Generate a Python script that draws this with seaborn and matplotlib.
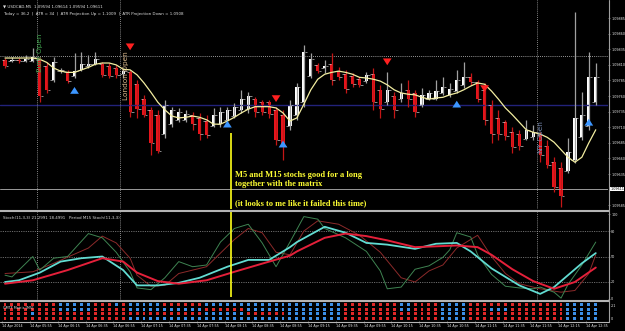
import numpy as np
import pandas as pd
import matplotlib
matplotlib.use("Agg")
import matplotlib.pyplot as plt
import seaborn as sns
from matplotlib.lines import Line2D

# ---------------- data ----------------
highs = [1.09821,1.09822,1.09821,1.09826,1.09837,1.09822,1.09814,1.09822,1.09805,1.09802,
         1.09829,1.09830,1.09826,1.09830,1.09814,1.09813,1.09810,1.09805,1.09802,1.09786,
         1.09762,1.09742,1.09738,1.09754,1.09742,1.09741,1.09738,1.09734,1.09733,1.09730,
         1.09741,1.09742,1.09742,1.09749,1.09770,1.09766,1.09758,1.09754,1.09754,1.09742,
         1.09738,1.09754,1.09781,1.09842,1.09829,1.09813,1.09818,1.09829,1.09806,1.09802,
         1.09797,1.09790,1.09798,1.09805,1.09778,1.09798,1.09766,1.09781,1.09786,1.09770,
         1.09773,1.09770,1.09786,1.09790,1.09781,1.09802,1.09814,1.09797,1.09786,1.09781,
         1.09754,1.09738,1.09722,1.09710,1.09706,1.09722,1.09714,1.09702,1.09690,1.09662,
         1.09654,1.09693,1.09895,1.09766,1.09830,1.09813]
lows = [1.09805,1.09814,1.09813,1.09814,1.09814,1.09750,1.09765,1.09782,1.09797,1.09781,
        1.09789,1.09800,1.09805,1.09810,1.09790,1.09789,1.09789,1.09789,1.09726,1.09725,
        1.09726,1.09665,1.09669,1.09693,1.09710,1.09718,1.09718,1.09706,1.09690,1.09693,
        1.09710,1.09710,1.09718,1.09725,1.09733,1.09733,1.09726,1.09730,1.09725,1.09681,
        1.09657,1.09706,1.09722,1.09742,1.09789,1.09797,1.09797,1.09778,1.09786,1.09765,
        1.09774,1.09774,1.09781,1.09738,1.09725,1.09746,1.09725,1.09750,1.09742,1.09726,
        1.09742,1.09754,1.09754,1.09762,1.09758,1.09765,1.09773,1.09778,1.09750,1.09714,
        1.09685,1.09690,1.09690,1.09669,1.09673,1.09690,1.09690,1.09654,1.09645,1.09606,
        1.09582,1.09637,1.09653,1.09690,1.09706,1.09746]
opens = [1.09818,1.09816,1.09818,1.09816,1.09816,1.09818,1.09808,1.09785,1.09800,1.09798,
         1.09792,1.09802,1.09808,1.09812,1.09812,1.09808,1.09805,1.09795,1.09798,1.09780,
         1.09755,1.09738,1.09730,1.09700,1.09715,1.09722,1.09722,1.09730,1.09725,1.09720,
         1.09712,1.09715,1.09722,1.09728,1.09738,1.09740,1.09755,1.09750,1.09750,1.09738,
         1.09730,1.09712,1.09730,1.09750,1.09792,1.09810,1.09805,1.09812,1.09800,1.09795,
         1.09792,1.09788,1.09784,1.09795,1.09770,1.09750,1.09760,1.09755,1.09770,1.09765,
         1.09745,1.09756,1.09756,1.09765,1.09762,1.09768,1.09778,1.09790,1.09782,1.09770,
         1.09745,1.09725,1.09718,1.09702,1.09700,1.09692,1.09695,1.09698,1.09680,1.09655,
         1.09645,1.09640,1.09658,1.09695,1.09712,1.09750]
closes = [1.09808,1.09818,1.09816,1.09820,1.09822,1.09760,1.09770,1.09815,1.09802,1.09784,
          1.09800,1.09812,1.09812,1.09820,1.09794,1.09792,1.09793,1.09800,1.09735,1.09740,
          1.09730,1.09685,1.09672,1.09745,1.09738,1.09735,1.09732,1.09715,1.09700,1.09698,
          1.09730,1.09735,1.09738,1.09742,1.09755,1.09760,1.09735,1.09735,1.09732,1.09690,
          1.09680,1.09745,1.09775,1.09830,1.09820,1.09800,1.09808,1.09785,1.09790,1.09772,
          1.09780,1.09778,1.09794,1.09750,1.09740,1.09770,1.09738,1.09765,1.09755,1.09735,
          1.09762,1.09765,1.09768,1.09775,1.09772,1.09785,1.09790,1.09782,1.09755,1.09722,
          1.09700,1.09700,1.09696,1.09678,1.09680,1.09705,1.09702,1.09665,1.09650,1.09615,
          1.09600,1.09670,1.09725,1.09730,1.09790,1.09790]
ma_vals = [1.09821,1.09821,1.09821,1.09821,1.09821,1.09819,1.09814,1.09805,1.09800,1.09798,
           1.09798,1.09802,1.09806,1.09811,1.09813,1.09813,1.09810,1.09803,1.09802,1.09794,
           1.09781,1.09766,1.09750,1.09738,1.09728,1.09725,1.09726,1.09728,1.09726,1.09722,
           1.09715,1.09715,1.09720,1.09726,1.09733,1.09739,1.09743,1.09743,1.09743,1.09741,
           1.09733,1.09720,1.09725,1.09747,1.09770,1.09787,1.09795,1.09798,1.09800,1.09798,
           1.09795,1.09790,1.09789,1.09787,1.09784,1.09778,1.09770,1.09765,1.09763,1.09762,
           1.09758,1.09755,1.09757,1.09758,1.09762,1.09765,1.09770,1.09776,1.09781,1.09779,
           1.09768,1.09755,1.09741,1.09730,1.09718,1.09706,1.09702,1.09699,1.09694,1.09686,
           1.09674,1.09662,1.09654,1.09662,1.09685,1.09706]

up_arrow_bars = [10, 32, 40, 65, 84]
up_arrow_prices = [1.09771, 1.09717, 1.09685, 1.09749, 1.09720]
dn_arrow_bars = [18, 39, 55, 69]
dn_arrow_prices = [1.09837, 1.09754, 1.09813, 1.09770]

price_ticks = [1.09885,1.09860,1.09835,1.09810,1.09785,1.09760,1.09735,1.09710,1.09685,1.09660,1.09635,1.09585]
current_price = 1.09611
daily_level = 1.09824
blue_level = 1.09746

session_bars = [4.6, 16.5, 76.5]
session_names = ["Euro Open", "London Open", "NY Open"]
session_label_bars = [5.1, 17.4, 77.1]
session_label_prices = [1.09829, 1.09792, 1.09694]
session_colors = ["#3fa34d", "#d9b88c", "#7d90b8"]

# stochastics (bar index, value)
m15_main_i = [0,2,5,8,11,14,17,19,22,25,28,32,35,38,41,42,46,49,52,55,59,62,65,67,70,74,77,79,83,85]
m15_main_v = [20,22,31,44,48,50,34,16,16,19,25,38,46,46,61,67,85,78,66,64,59,65,66,56,36,16,6,14,42,54]
m15_sig_i = [0,4,9,14,17,19,22,25,29,33,38,41,42,46,49,52,55,59,62,65,68,70,73,76,79,82,85]
m15_sig_v = [18,22,34,48,44,31,21,18,22,32,44,51,56,72,77,74,69,61,62,63,61,52,35,21,12,20,37]
m5_main_i = [0,1,4,5,7,9,12,14,16,18,19,21,23,25,27,29,31,33,35,37,39,41,43,45,46,49,52,54,55,57,59,61,63,64,65,67,68,70,72,74,76,77,79,80,81,83,85]
m5_main_v = [28,26,50,34,48,50,77,72,55,32,13,11,25,44,38,40,67,83,88,66,38,67,97,94,83,72,56,33,12,14,35,39,49,58,78,73,52,29,15,13,12,14,8,1,17,40,67]
m5_sig_i = [0,4,7,12,14,16,18,19,21,23,25,29,33,35,37,39,41,43,45,48,51,54,57,59,61,63,65,68,70,72,74,77,80,82,84,85]
m5_sig_v = [30,32,42,60,74,66,48,28,15,16,30,38,70,83,78,55,52,80,92,88,75,55,25,20,33,40,60,75,50,30,18,12,8,10,30,52]

# matrix rows (run-length segments: state, count)
matrix_rows = [
    [("r",8),("b",5),("r",3),("b",1),("r",1),("b",5),("r",6),("b",20),("r",8),("b",2),("r",4),("b",4),("r",14),("b",5)],
    [("r",8),("b",5),("r",5),("b",11),("r",6),("b",14),("r",8),("b",2),("r",4),("b",4),("r",3),("b",3),("r",8),("b",5)],
    [("r",4),("b",1),("r",24),("b",6),("r",6),("b",8),("r",14),("b",4),("r",14),("b",5)],
    [("r",18),("b",31),("r",14),("b",4),("r",14),("b",5)],
]

time_labels = ["14 Apr 2014"] + ["14 Apr %02d:%02d" % divmod(355 + 20 * k, 60) for k in range(21)]

header1 = "\u25bc USDCAD,M5  1.09594 1.09614 1.09594 1.09611"
header2 = "Today = 36.2  |  ATR = 34  |  ATR Projection Up = 1.1009  |  ATR Projection Down = 1.0908"
stoch_title = "Stoch(11,3,3) 21.2991 18.4991   Period M15 Stoch(11,3,3)"
matrix_title = "GMTF Matrix [M5]"
note_lines = ["M5 and M15 stochs good for a long", "together with the matrix", "(it looks to me like it failed this time)"]
note_prices = [1.09633, 1.09619, 1.09589]

# ---------------- figure ----------------
W, H = 625, 331
sns.set_theme(style="dark", rc={"axes.facecolor": "black", "figure.facecolor": "black"})
plt.rcParams["font.family"] = ["DejaVu Sans"]

fig = plt.figure(figsize=(W / 100, H / 100), dpi=100, facecolor="black")
XL = (-0.72, 86.76)
SMALL = 2.9     # header / panel titles
AXF = 2.45      # axis tick labels


def px_axes(x0, y0, x1, y1):
    a = fig.add_axes([x0 / W, 1 - y1 / H, (x1 - x0) / W, (y1 - y0) / H])
    a.set_facecolor("black")
    for s in a.spines.values():
        s.set_visible(False)
    a.grid(False)
    return a


df = pd.DataFrame({"bar": np.arange(len(opens)), "open": opens, "high": highs,
                   "low": lows, "close": closes, "ma": ma_vals})
up = df["close"] >= df["open"]

# ---- main price panel ----
ax = px_axes(0, 0, 608, 209)
ax.axhline(daily_level, color="#c8c8c8", lw=0.6, ls=(0, (1, 1.5)))
ax.axhline(blue_level, color="#22227a", lw=1.0)
ax.axhline(current_price, color="#9a9a9a", lw=0.7)
for b in session_bars:
    ax.axvline(b, color="#b0b0b0", lw=0.6, ls=(0, (1, 1.5)))

ax.vlines(df["bar"][up], df["low"][up], df["high"][up], color="#a0a0a0", lw=0.9)
ax.vlines(df["bar"][~up], df["low"][~up], df["high"][~up], color="#c41616", lw=0.9)
ax.bar(df["bar"][up], (df["close"] - df["open"])[up], bottom=df["open"][up],
       width=0.46, color="white", lw=0)
ax.bar(df["bar"][~up], (df["open"] - df["close"])[~up], bottom=df["close"][~up],
       width=0.46, color="#e8141c", lw=0)
ax.hlines(df["open"], df["bar"] - 0.5, df["bar"] - 0.12, color="#d8d8d8", lw=0.45)
ax.hlines(df["close"], df["bar"] + 0.12, df["bar"] + 0.5, color="#d8d8d8", lw=0.45)

sns.lineplot(data=df, x="bar", y="ma", color="#f2eda0", lw=0.9, ax=ax)

for b, p in zip(up_arrow_bars, up_arrow_prices):
    ax.annotate("", xy=(b, p + 0.00008), xytext=(b, p - 0.00008),
                arrowprops=dict(arrowstyle="simple,head_width=0.9,head_length=0.7,tail_width=0.35",
                                color="#3c96ff", lw=0, mutation_scale=7))
for b, p in zip(dn_arrow_bars, dn_arrow_prices):
    ax.annotate("", xy=(b, p - 0.00008), xytext=(b, p + 0.00008),
                arrowprops=dict(arrowstyle="simple,head_width=0.9,head_length=0.7,tail_width=0.35",
                                color="#ff2020", lw=0, mutation_scale=7))

for name, b, p, c in zip(session_names, session_label_bars, session_label_prices, session_colors):
    ax.text(b, p, name, rotation=90, color=c, fontsize=5.3, ha="center", va="center")

ax.vlines(32.5, 1.09579, 1.09701, color="#ffff1a", lw=1.2, clip_on=False)
for line, p in zip(note_lines, note_prices):
    ax.text(33.1, p, line, color="#ffff33", fontsize=6.0, fontweight="bold",
            family=["Liberation Serif", "DejaVu Serif"], ha="left", va="center")

ax.set_xlim(*XL)
ax.set_ylim(1.09579, 1.09914)
ax.set_xlabel("")
ax.set_ylabel("")
ax.set_xticks([])
ax.yaxis.tick_right()
ax.set_yticks(price_ticks)
ax.set_yticklabels(["%.5f" % v for v in price_ticks])
ax.tick_params(axis="y", which="both", right=True, length=1.5, width=0.5, color="#909090",
               labelcolor="#e8e8e8", labelsize=AXF, pad=0.8)
ax.text(1.0035, current_price, "%.5f" % current_price, transform=ax.get_yaxis_transform(),
        fontsize=AXF, color="black", ha="left", va="center",
        bbox=dict(boxstyle="square,pad=0.12", fc="white", ec="none"))

# ---- stochastic panel ----
ax2 = px_axes(0, 212, 608, 300)
for g in (80, 50, 20):
    ax2.axhline(g, color="#8a8a8a", lw=0.55, ls=(0, (1.5, 1.5)))
for b in session_bars:
    ax2.axvline(b, color="#b0b0b0", lw=0.6, ls=(0, (1, 1.5)))
sns.lineplot(x=m5_sig_i, y=m5_sig_v, color="#8c2a2a", lw=0.7, ax=ax2)
sns.lineplot(x=m5_main_i, y=m5_main_v, color="#3f8452", lw=0.7, ax=ax2)
sns.lineplot(x=m15_main_i, y=m15_main_v, color="#62dcd2", lw=1.3, ax=ax2)
sns.lineplot(x=m15_sig_i, y=m15_sig_v, color="#e4203a", lw=1.4, ax=ax2)
ax2.vlines(32.5, 2, 104.5, color="#ffff1a", lw=1.2, clip_on=False)
ax2.text(0.005, 0.93, stoch_title, transform=ax2.transAxes, color="#d8d8d8",
         fontsize=SMALL, ha="left", va="center")
ax2.set_xlim(*XL)
ax2.set_ylim(-1.2, 102.4)
ax2.set_xlabel("")
ax2.set_ylabel("")
ax2.set_xticks([])
ax2.yaxis.tick_right()
ax2.set_yticks([100, 80, 50, 20, 0])
ax2.set_yticklabels(["100", "80", "50", "20", "0"])
ax2.tick_params(axis="y", right=True, length=1.5, width=0.5, color="#909090",
                labelcolor="#e8e8e8", labelsize=AXF, pad=0.8)

# ---- matrix panel ----
ax3 = px_axes(0, 302, 608, 321)
recs = []
for r, segs in enumerate(matrix_rows):
    states = "".join(s * n for s, n in segs)
    states = (states + states[-1] * 86)[:86]
    for b, s in enumerate(states):
        recs.append({"bar": b, "row": r, "state": s})
mdf = pd.DataFrame(recs)
sns.scatterplot(data=mdf, x="bar", y="row", hue="state",
                palette={"b": "#3b8fe8", "r": "#e02828"}, marker="s", s=4.5,
                linewidth=0, legend=False, ax=ax3)
ax3.text(0.005, 0.72, matrix_title, transform=ax3.transAxes, color="#e0e0e0",
         fontsize=AXF, ha="left", va="center")
ax3.set_xlim(*XL)
ax3.set_ylim(3.6, -0.6)
ax3.set_xlabel("")
ax3.set_ylabel("")
ax3.set_yticks([])
ax3.text(1.004, 0.28, "2.1", transform=ax3.get_yaxis_transform(), fontsize=AXF,
         color="#e8e8e8", ha="left", va="center")
ax3.text(1.004, 3.14, "0", transform=ax3.get_yaxis_transform(), fontsize=AXF,
         color="#e8e8e8", ha="left", va="center")
ax3.set_xticks([4 * k - 0.4 for k in range(len(time_labels))])
ax3.set_xticklabels(time_labels, ha="left")
ax3.tick_params(axis="x", bottom=True, length=1.5, width=0.5, color="#909090",
                labelcolor="#e8e8e8", labelsize=AXF, pad=0.8)

# ---- frame lines and header ----
for yy in (210.5, 300.5, 321.5):
    fig.add_artist(Line2D([0, 608.5 / W], [1 - yy / H, 1 - yy / H], color="#b4b4b4",
                          lw=1.5 if yy < 321 else 0.8, transform=fig.transFigure))
fig.add_artist(Line2D([608.5 / W, 608.5 / W], [1 - 322 / H, 1], color="#a0a0a0",
                      lw=0.8, transform=fig.transFigure))
fig.text(3 / W, 1 - 6 / H, header1, color="#e0e0e0", fontsize=SMALL, ha="left", va="center")
fig.text(3 / W, 1 - 14 / H, header2, color="#e0e0e0", fontsize=SMALL, ha="left", va="center")

fig.savefig("out.png", dpi=100, facecolor="black")
